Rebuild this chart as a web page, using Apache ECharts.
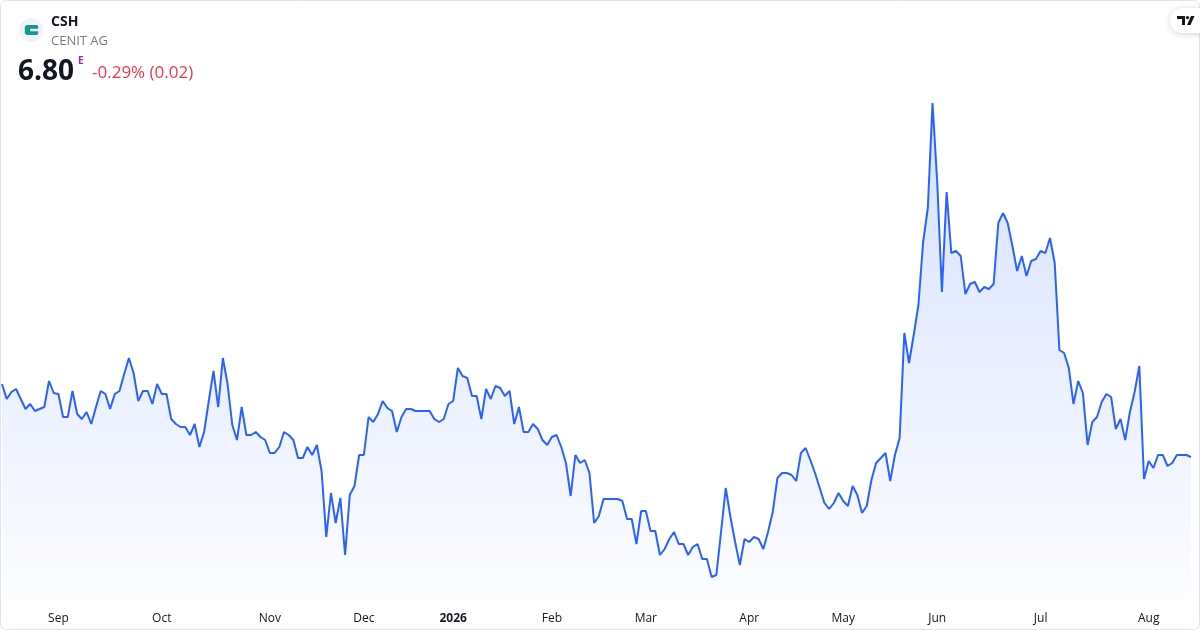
<!DOCTYPE html>
<html>
<head>
<meta charset="utf-8">
<script src="https://cdn.jsdelivr.net/npm/echarts@6/dist/echarts.min.js"></script>
<style>
html,body{margin:0;padding:0;background:#fff;}
#chart{width:1200px;height:630px;}
</style>
</head>
<body>
<div id="chart"></div>
<script>
// Daily closing prices (EUR), one per trading day
const prices = [
7.53,7.38,7.45,7.48,7.38,7.28,7.33,7.26,7.28,7.30,
7.56,7.44,7.43,7.20,7.20,7.46,7.23,7.18,7.25,7.13,
7.30,7.46,7.43,7.28,7.43,7.46,7.63,7.79,7.64,7.36,
7.46,7.46,7.33,7.53,7.43,7.43,7.18,7.13,7.10,7.10,
7.02,7.13,6.90,7.05,7.36,7.66,7.30,7.79,7.53,7.12,
6.97,7.30,7.02,7.02,7.05,7.00,6.97,6.84,6.84,6.90,
7.05,7.02,6.97,6.79,6.79,6.90,6.82,6.92,6.66,6.00,
6.44,6.14,6.39,5.82,6.42,6.51,6.82,6.82,7.20,7.15,
7.23,7.36,7.29,7.26,7.05,
7.20,7.28,7.28,7.26,7.26,7.26,7.26,7.18,7.15,7.18,
7.33,7.36,7.69,7.61,7.59,7.41,7.41,7.18,7.48,7.38,
7.51,7.49,7.41,7.46,7.13,7.30,7.05,7.05,7.13,7.08,
6.97,6.92,7.00,7.02,6.90,6.74,6.41,6.82,6.74,6.77,
6.64,6.14,6.21,
6.38,6.38,6.38,6.38,6.36,6.18,6.18,5.93,6.26,6.26,
6.06,6.06,5.82,5.88,5.98,6.05,5.93,5.93,5.82,5.90,
5.93,5.78,5.78,5.60,5.62,6.05,6.49,6.20,5.95,5.72,
5.98,5.95,6.00,5.98,5.88,6.05,6.25,6.59,6.64,6.64,
6.62,6.56,
6.84,6.89,6.77,6.64,6.49,6.34,6.28,6.34,6.44,6.36,
6.31,6.51,6.42,6.24,6.31,6.57,6.74,6.79,6.84,6.56,
6.82,6.99,8.04,7.74,8.02,8.32,8.95,9.29,10.34,9.55,
8.45,9.45,8.84,8.86,8.81,8.43,8.53,8.55,8.45,8.50,
8.48,
8.53,9.14,9.24,9.14,8.91,8.66,8.81,8.61,8.76,8.78,
8.86,8.84,8.99,8.74,7.87,7.84,7.69,7.33,7.56,7.44,
6.92,7.15,7.20,7.35,7.43,7.40,7.08,7.18,6.97,7.25,
7.45,7.71,6.58,6.76,6.69,6.82,6.82,6.71,6.74,6.82,
6.82,6.82,6.80
];
const startDate = '2025-08-14';
const holidays = ['2025-12-24','2025-12-25','2025-12-26','2025-12-31','2026-01-01','2026-04-03','2026-04-06','2026-05-01'];
const monthNames = ['Jan','Feb','Mar','Apr','May','Jun','Jul','Aug','Sep','Oct','Nov','Dec'];

// trading-day categories
const dates = [];
{
  const d = new Date(startDate + 'T00:00:00Z');
  while (dates.length < prices.length) {
    const s = d.toISOString().slice(0,10);
    const wd = d.getUTCDay();
    if (wd !== 0 && wd !== 6 && holidays.indexOf(s) < 0) dates.push(s);
    d.setUTCDate(d.getUTCDate() + 1);
  }
}

const chart = echarts.init(document.getElementById('chart'));
const FONT = '"Open Sans", Roboto, sans-serif';
chart.setOption({
  animation: false,
  backgroundColor: '#ffffff',
  grid: { left: 2, right: 9, top: 97, bottom: 30 },
  xAxis: {
    type: 'category',
    data: dates,
    boundaryGap: false,
    axisLine: { show: false },
    axisTick: { show: false },
    splitLine: { show: false },
    axisLabel: {
      margin: 13,
      hideOverlap: false,
      color: '#131722',
      fontFamily: FONT,
      fontSize: 12,
      interval: function (i) {
        return i > 0 && dates[i].slice(5,7) !== dates[i-1].slice(5,7);
      },
      formatter: function (v) {
        const m = +v.slice(5,7);
        if (m === 1) return '{b|' + v.slice(0,4) + '}';
        return monthNames[m-1];
      },
      rich: { b: { fontWeight: 'bold', color: '#131722', fontFamily: FONT, fontSize: 12 } }
    }
  },
  yAxis: {
    type: 'value',
    min: 5.37,
    max: 10.40,
    show: false,
    splitLine: { show: false }
  },
  series: [{
    type: 'line',
    data: prices,
    symbol: 'none',
    lineStyle: { color: '#2962ff', width: 2 },
    itemStyle: { color: '#2962ff' },
    areaStyle: {
      origin: 'start',
      color: new echarts.graphic.LinearGradient(0, 0, 0, 1, [
        { offset: 0, color: 'rgba(41,98,255,0.28)' },
        { offset: 1, color: 'rgba(41,98,255,0.02)' }
      ])
    }
  }],
  graphic: [
    { type: 'rect', z: 100, silent: true,
      shape: { x: 0.5, y: 0.5, width: 1199, height: 629, r: 6 },
      style: { fill: 'none', stroke: '#e0e3eb', lineWidth: 1 } },
    { type: 'circle', z: 100, shape: { cx: 31, cy: 30, r: 12 }, style: { fill: '#eff2f8' } },
    { type: 'polygon', z: 101,
      shape: { points: [[26.5,25],[37,25],[38.2,26.2],[38.2,28.8],[30.2,28.8],[30.2,31.2],[38.2,31.2],[38.2,33.8],[37,35],[26.5,35],[24.8,33.3],[24.8,26.7]] },
      style: { fill: '#119a8c' } },
    { type: 'text', z: 101, left: 51, top: 15,
      style: { text: 'CSH', fill: '#131722', font: 'bold 14px ' + FONT } },
    { type: 'text', z: 101, left: 51, top: 35,
      style: { text: 'CENIT AG', fill: '#787b86', font: '13px ' + FONT } },
    { type: 'text', z: 101, left: 18, top: 58,
      style: { text: '6.80', fill: '#131722', font: 'bold 28px ' + FONT } },
    { type: 'text', z: 101, left: 78, top: 56,
      style: { text: 'E', fill: '#9c27b0', font: 'bold 10px ' + FONT } },
    { type: 'text', z: 101, left: 92, top: 65,
      style: { text: '-0.29% (0.02)', fill: '#f23645', font: '17px ' + FONT } },
    { type: 'rect', z: 102, shape: { x: 1170, y: 8, width: 50, height: 25, r: 12 },
      style: { fill: '#ffffff', shadowBlur: 6, shadowColor: 'rgba(0,0,0,0.18)', shadowOffsetY: 1 } },
    { type: 'polygon', z: 103,
      shape: { points: [[1177,16],[1185,16],[1185,25],[1182,25],[1182,19],[1177,19]] },
      style: { fill: '#131722' } },
    { type: 'circle', z: 103, shape: { cx: 1187.5, cy: 17.6, r: 1.7 }, style: { fill: '#131722' } },
    { type: 'polygon', z: 103,
      shape: { points: [[1191,16],[1194.5,16],[1190.5,25],[1187,25]] },
      style: { fill: '#131722' } }
  ]
});
</script>
</body>
</html>
